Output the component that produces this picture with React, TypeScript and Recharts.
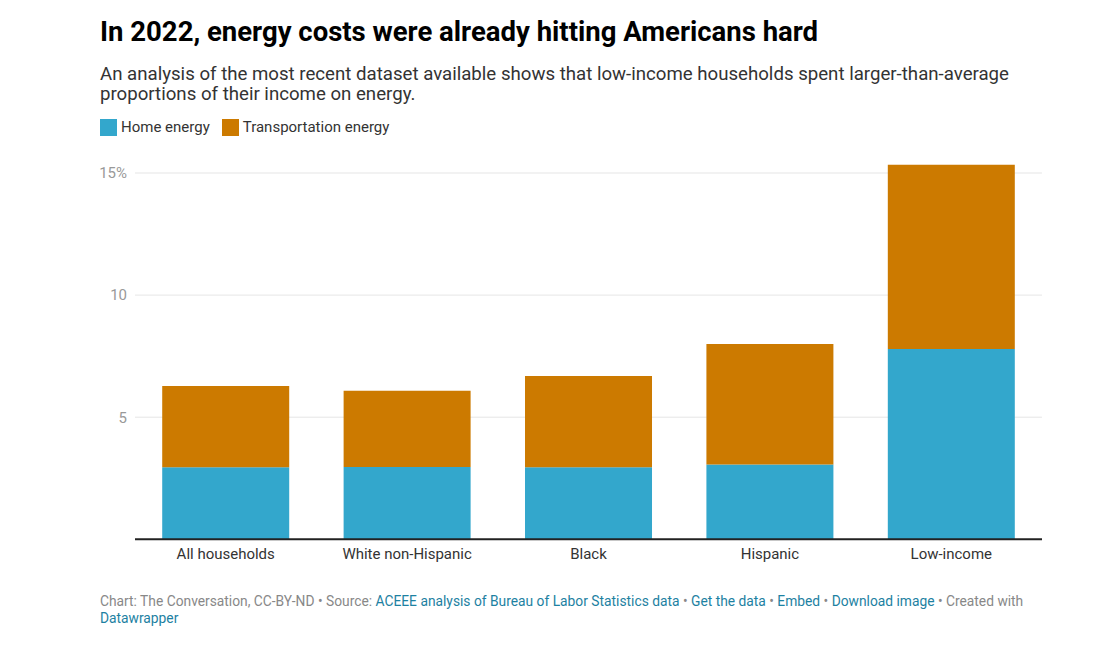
import * as React from "react";
import { Bar, BarChart, ReferenceLine, XAxis, YAxis } from "recharts";

const CATEGORIES = [
  "All households",
  "White non-Hispanic",
  "Black",
  "Hispanic",
  "Low-income",
];
const HOME_ENERGY = [2.95, 2.96, 2.95, 3.06, 7.79];
const TRANSPORT_ENERGY = [3.33, 3.12, 3.74, 4.94, 7.55];
const Y_TICKS = [5, 10, 15];

const BLUE = "#33a7cc";
const ORANGE = "#cc7a00";
const FONT = "Roboto, 'Noto Sans', sans-serif";
const LINK = "#1d81a2";

const data = CATEGORIES.map((name, i) => ({
  name,
  home: HOME_ENERGY[i],
  transport: TRANSPORT_ENERGY[i],
}));

function LegendItem({ color, label }: { color: string; label: string }) {
  return (
    <span style={{ display: "inline-flex", alignItems: "center", marginRight: 12 }}>
      <span style={{ width: 17, height: 17, background: color, marginRight: 4 }} />
      <span>{label}</span>
    </span>
  );
}

export default function App() {
  return (
    <div
      style={{
        position: "absolute",
        left: 0,
        top: 0,
        width: 1112,
        height: 668,
        background: "#fff",
        fontFamily: FONT,
        color: "#333",
      }}
    >
      <div
        style={{
          position: "absolute",
          left: 100,
          top: 14,
          fontSize: 27.5,
          lineHeight: "36px",
          fontWeight: 700,
          color: "#000",
          whiteSpace: "nowrap",
        }}
      >
        In 2022, energy costs were already hitting Americans hard
      </div>
      <div
        style={{
          position: "absolute",
          left: 100,
          top: 64,
          fontSize: 18.65,
          lineHeight: "20px",
          color: "#333",
          whiteSpace: "nowrap",
        }}
      >
        An analysis of the most recent dataset available shows that low-income households spent larger-than-average
        <br />
        proportions of their income on energy.
      </div>
      <div
        style={{
          position: "absolute",
          left: 100,
          top: 118,
          fontSize: 15,
          display: "flex",
          color: "#333",
        }}
      >
        <LegendItem color={BLUE} label="Home energy" />
        <LegendItem color={ORANGE} label="Transportation energy" />
      </div>

      <div style={{ position: "absolute", left: 0, top: 120 }}>
        <BarChart
          width={1112}
          height={449.3}
          data={data}
          margin={{ top: 28.6, right: 70, bottom: 0, left: 100 }}
          barCategoryGap="15%"
        >
          <YAxis
            type="number"
            domain={[0, 16]}
            ticks={Y_TICKS}
            width={35}
            axisLine={false}
            tickLine={false}
            tick={{ fill: "#999", fontSize: 15, fontFamily: FONT }}
            tickFormatter={(v: number) => (v === 15 ? "15%" : String(v))}
          />
          <XAxis
            dataKey="name"
            height={30}
            axisLine={{ stroke: "#222", strokeWidth: 2 }}
            tickLine={false}
            tick={{ fill: "#333", fontSize: 15, fontFamily: FONT, dy: 1 }}
            interval={0}
          />
          {Y_TICKS.map((t) => (
            <ReferenceLine key={t} y={t} stroke="#e6e6e6" strokeWidth={1} zIndex={-100} />
          ))}
          <Bar dataKey="home" stackId="a" fill={BLUE} isAnimationActive={false} />
          <Bar dataKey="transport" stackId="a" fill={ORANGE} isAnimationActive={false} />
        </BarChart>
      </div>

      <div
        style={{
          position: "absolute",
          left: 100,
          top: 593,
          fontSize: 13.8,
          lineHeight: "17px",
          color: "#888",
          whiteSpace: "nowrap",
        }}
      >
        Chart: The Conversation, CC-BY-ND • Source:{" "}
        <span style={{ color: LINK }}>ACEEE analysis of Bureau of Labor Statistics data</span> •{" "}
        <span style={{ color: LINK }}>Get the data</span> • <span style={{ color: LINK }}>Embed</span>{" "}
        {" "}• <span style={{ color: LINK }}>Download image</span> • Created with
        <br />
        <span style={{ color: LINK }}>Datawrapper</span>
      </div>
    </div>
  );
}
